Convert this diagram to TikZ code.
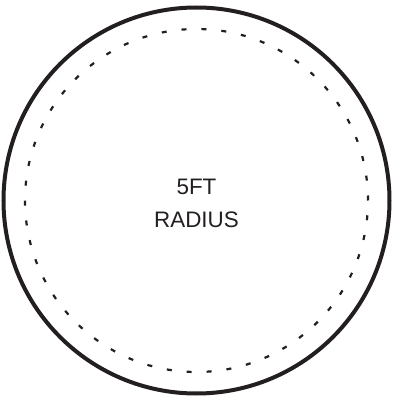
\documentclass[tikz,border=0pt]{standalone}
\usepackage{fontspec}
\setmainfont{Liberation Sans}
\usetikzlibrary{positioning}
\definecolor{cink}{HTML}{231F20}
\tikzset{
  every picture/.style={x=1bp, y=1bp},
  rim/.style={draw=cink, line width=4bp},
  reach/.style={draw=cink, line width=2.2bp, dash pattern=on 5bp off 14.96bp},
  label/.style={font=\fontsize{22.5}{33}\selectfont, text=cink, align=center},
}
\begin{document}
\begin{tikzpicture}
  \useasboundingbox (0,0) rectangle (393,401);
  % outer circle and dotted radius line
  \coordinate (c) at (196.5,200.5);
  \draw[rim] (c) circle[radius=193];
  \draw[reach] (c) circle[radius=171.5];
  \node[label] (txt) at (196.5,198) {5FT\\RADIUS};
\end{tikzpicture}
\end{document}
